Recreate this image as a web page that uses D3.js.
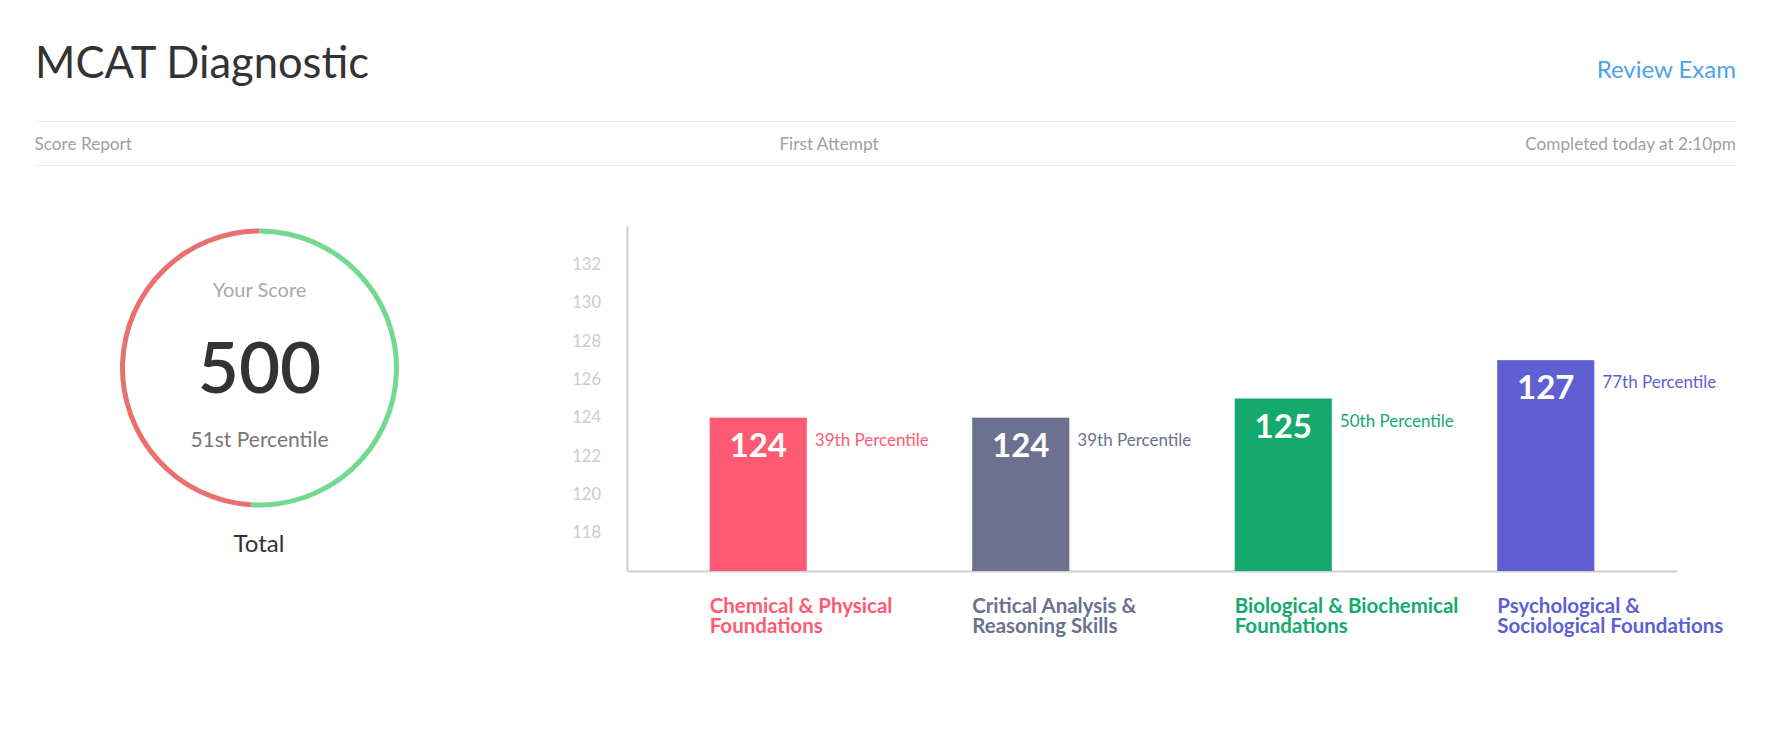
<!DOCTYPE html>
<html><head><meta charset="utf-8">
<script src="https://cdn.jsdelivr.net/npm/d3@7"></script>
<style>
html,body{margin:0;padding:0;background:#fff;}
svg text{font-family:Lato,"Open Sans",sans-serif;}
</style></head>
<body>
<svg id="chart" width="1791" height="730"></svg>
<script>
// ---- data ----
const title = "MCAT Diagnostic";
const headerLabels = ["Score Report", "First Attempt", "Completed today at 2:10pm"];
const totalScore = 500;
const totalPercentile = "51st Percentile";
const totalPercentileValue = 51;
const categories = [
  ["Chemical & Physical", "Foundations"],
  ["Critical Analysis &", "Reasoning Skills"],
  ["Biological & Biochemical", "Foundations"],
  ["Psychological &", "Sociological Foundations"]
];
const scores = [124, 124, 125, 127];
const percentiles = ["39th Percentile", "39th Percentile", "50th Percentile", "77th Percentile"];
const colors = ["#ff5a74", "#6b718f", "#14aa6e", "#5f5fd4"];
const yTicks = [118, 120, 122, 124, 126, 128, 130, 132];
const yDomain = [116, 134];

const svg = d3.select("#chart");

// ---- header ----
svg.append("text").attr("x", 35).attr("y", 78).attr("font-size", 43.5).attr("fill", "#333").text(title);
svg.append("text").attr("x", 1736).attr("y", 78).attr("text-anchor", "end").attr("font-size", 24).attr("fill", "#4aa3ea").text("Review Exam");
svg.append("line").attr("x1", 34).attr("x2", 1737).attr("y1", 121.5).attr("y2", 121.5).attr("stroke", "#eeeeee");
svg.append("line").attr("x1", 34).attr("x2", 1737).attr("y1", 165.5).attr("y2", 165.5).attr("stroke", "#eeeeee");
svg.append("text").attr("x", 34.5).attr("y", 150).attr("font-size", 17.2).attr("fill", "#a0a0a0").text(headerLabels[0]);
svg.append("text").attr("x", 829).attr("y", 150).attr("text-anchor", "middle").attr("font-size", 17.2).attr("fill", "#a0a0a0").text(headerLabels[1]);
svg.append("text").attr("x", 1736).attr("y", 150).attr("text-anchor", "end").attr("font-size", 17.2).attr("fill", "#a0a0a0").text(headerLabels[2]);

// ---- donut ----
const cx = 259.5, cy = 368;
const g = svg.append("g").attr("transform", `translate(${cx},${cy})`);
const pie = d3.pie().sort(null).value(d => d.v);
const arc = d3.arc().innerRadius(134.5).outerRadius(139.5);
g.selectAll("path").data(pie([{v: totalPercentileValue, c: "#72d98f"}, {v: 100 - totalPercentileValue, c: "#e8706f"}]))
  .join("path").attr("d", arc).attr("fill", d => d.data.c);
g.append("text").attr("y", 297 - cy).attr("text-anchor", "middle").attr("font-size", 20).attr("fill", "#a8a8a8").text("Your Score");
g.append("text").attr("y", 393 - cy).attr("text-anchor", "middle").attr("font-size", 71).attr("font-weight", 600).attr("fill", "#333").text(totalScore);
g.append("text").attr("y", 447 - cy).attr("text-anchor", "middle").attr("font-size", 21).attr("fill", "#777").text(totalPercentile);
svg.append("text").attr("x", 259).attr("y", 552).attr("text-anchor", "middle").attr("font-size", 24).attr("fill", "#333").text("Total");

// ---- bar chart ----
const x0 = 627, x1 = 1677, yTop = 226, yBot = 571;
const x = d3.scaleBand().domain(d3.range(scores.length)).range([x0, x1]).paddingInner(0.63).paddingOuter(0.315);
const y = d3.scaleLinear().domain(yDomain).range([yBot, yTop]);

const yAxis = svg.append("g").attr("transform", `translate(${x0},0)`)
  .call(d3.axisLeft(y).tickValues(yTicks).tickSize(0).tickPadding(26));
yAxis.select(".domain").attr("stroke", "#d0d0d0").attr("stroke-width", 2);
yAxis.selectAll("text").attr("font-size", 16.5).attr("fill", "#cccccc").attr("font-family", "Lato");

const xAxis = svg.append("g").attr("transform", `translate(0,${yBot})`)
  .call(d3.axisBottom(x).tickSize(0).tickFormat(""));
xAxis.select(".domain").attr("stroke", "#d0d0d0").attr("stroke-width", 2);

const bars = svg.append("g").selectAll("g").data(scores).join("g");
bars.append("rect")
  .attr("x", (d, i) => x(i)).attr("width", x.bandwidth())
  .attr("y", d => y(d)).attr("height", d => y(yDomain[0]) - y(d))
  .attr("fill", (d, i) => colors[i]);
bars.append("text")
  .attr("x", (d, i) => x(i) + x.bandwidth() / 2).attr("y", d => y(d) + 39)
  .attr("text-anchor", "middle").attr("font-size", 33).attr("font-weight", 700).attr("fill", "#fff")
  .text(d => d);
bars.append("text")
  .attr("x", (d, i) => x(i) + x.bandwidth() + 8).attr("y", d => y(d) + 28)
  .attr("font-size", 17).attr("fill", (d, i) => colors[i])
  .text((d, i) => percentiles[i]);

const cat = svg.append("g").selectAll("text").data(categories).join("text")
  .attr("x", (d, i) => x(i)).attr("y", 612.7)
  .attr("font-size", 20.5).attr("font-weight", 700).attr("fill", (d, i) => colors[i]);
cat.selectAll("tspan").data(d => d).join("tspan")
  .attr("x", function() { return d3.select(this.parentNode).attr("x"); })
  .attr("dy", (d, j) => j === 0 ? 0 : 20.5)
  .text(d => d);
</script>
</body></html>
